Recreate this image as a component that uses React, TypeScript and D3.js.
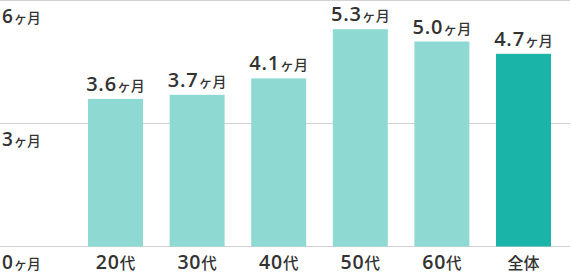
import React from "react";
import * as d3 from "d3";

const categories = ["20代", "30代", "40代", "50代", "60代", "全体"];
const values = [3.6, 3.7, 4.1, 5.3, 5.0, 4.7];
const highlight = [false, false, false, false, false, true];
const yTicks = [0, 3, 6];
const unit = "ヶ月";

const W = 571;
const H = 274;

export default function App() {
  const x = d3
    .scaleBand<string>()
    .domain(categories)
    .range([74.7, 564.3])
    .paddingInner(0.326)
    .paddingOuter(0.163);
  const y = d3.scaleLinear().domain([0, 6]).range([246.5, 0.5]);

  const numFont = "'Open Sans', 'Noto Sans', sans-serif";
  const cjkFont = "'Noto Sans CJK JP', sans-serif";
  const textColor = "#333333";

  return (
    <svg
      width={W}
      height={H}
      style={{ position: "absolute", left: 0, top: 0 }}
      xmlns="http://www.w3.org/2000/svg"
    >
      {yTicks.map((t) => (
        <g key={t}>
          <line x1={0} x2={570} y1={y(t)} y2={y(t)} stroke="#d2d2d2" strokeWidth={1} />
          <text x={2} y={y(t) + 22} fill={textColor}>
            <tspan fontFamily={numFont} fontSize={19} fontWeight={600} letterSpacing={0.8}>
              {t}
            </tspan>
            <tspan fontFamily={cjkFont} fontSize={13.5} fontWeight={500}>
              {unit}
            </tspan>
          </text>
        </g>
      ))}
      {categories.map((c, i) => {
        const bx = x(c)!;
        const top = y(values[i]);
        const num = c.match(/^\d+/);
        return (
          <g key={c}>
            <rect
              x={bx}
              y={top}
              width={x.bandwidth()}
              height={y(0) - top}
              fill={highlight[i] ? "#1ab5a8" : "#8fd9d3"}
            />
            <text
              x={bx + x.bandwidth() / 2}
              y={top - 8}
              textAnchor="middle"
              fill={textColor}
            >
              <tspan fontFamily={numFont} fontSize={20} fontWeight={600} letterSpacing={0.8}>
                {values[i].toFixed(1)}
              </tspan>
              <tspan fontFamily={cjkFont} fontSize={14} fontWeight={500}>
                {unit}
              </tspan>
            </text>
            <text
              x={bx + x.bandwidth() / 2}
              y={269}
              textAnchor="middle"
              fill={textColor}
            >
              {num ? (
                <>
                  <tspan fontFamily={numFont} fontSize={19.5} fontWeight={600} letterSpacing={0.8}>
                    {num[0]}
                  </tspan>
                  <tspan fontFamily={cjkFont} fontSize={15.5} fontWeight={500}>
                    {c.replace(/^\d+/, "")}
                  </tspan>
                </>
              ) : (
                <tspan fontFamily={cjkFont} fontSize={16} fontWeight={500}>
                  {c}
                </tspan>
              )}
            </text>
          </g>
        );
      })}
    </svg>
  );
}
